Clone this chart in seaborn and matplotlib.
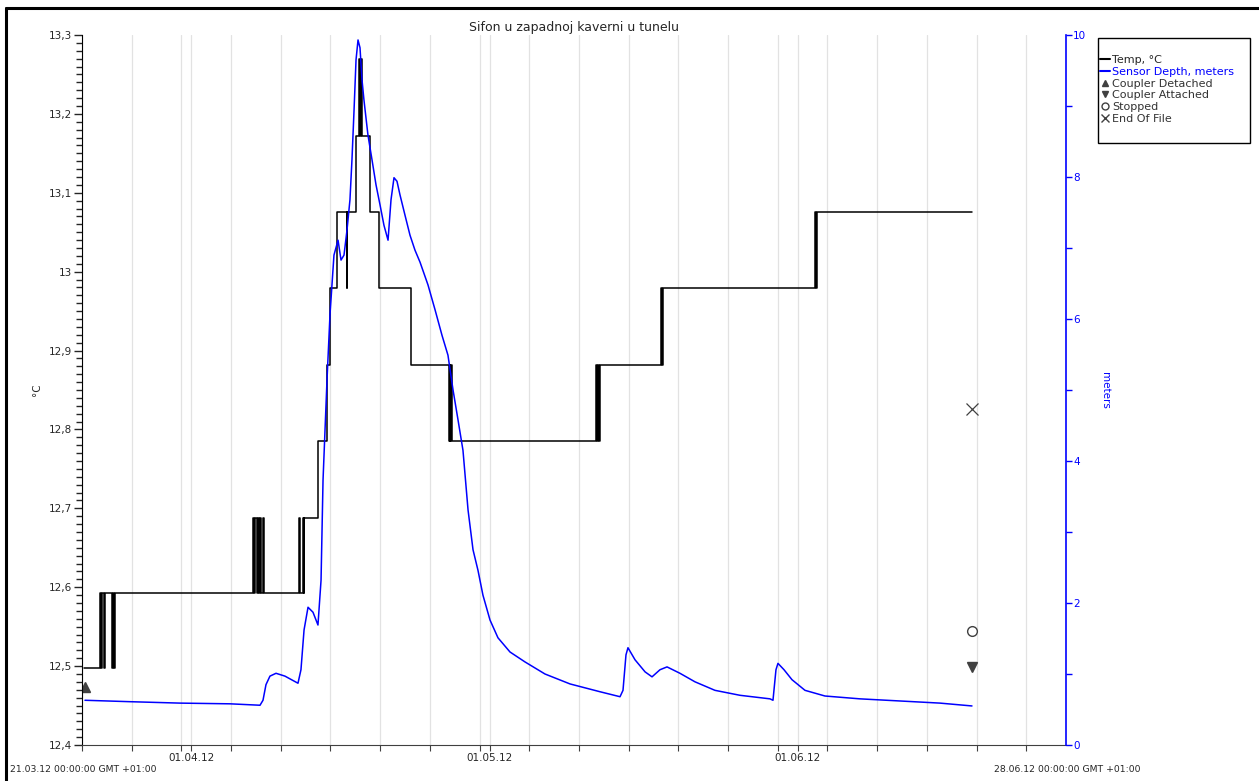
import matplotlib
matplotlib.use('Agg')
import matplotlib.pyplot as plt
from matplotlib.lines import Line2D
from matplotlib.patches import Rectangle
from matplotlib.ticker import FuncFormatter, MultipleLocator, FixedLocator
import matplotlib.dates as mdates
import seaborn as sns
import pandas as pd

# --- data (days since 21.03.12 00:00) ---
start = pd.Timestamp('2012-03-21')
end = pd.Timestamp('2012-06-28')

temp_days = [0.2, 1.8, 1.9, 2.0, 2.2, 2.3, 3.0, 3.15, 3.25, 3.35,
             17.2, 17.35, 17.45, 17.6, 17.7, 17.85, 17.95, 18.05, 18.2, 18.35,
             21.83, 21.95, 22.2, 22.3, 22.35,
             23.74, 24.65, 24.95, 25.66, 26.62, 26.7, 27.54, 27.9, 28.0, 28.1, 28.2,
             28.98, 29.88, 33.1,
             36.9, 36.98, 37.05, 37.12, 37.2,
             51.7, 51.8, 51.9, 52.0, 52.1,
             58.3, 58.35, 58.45,
             73.75, 73.85, 73.95, 89.54]
temp_vals = [12.497, 12.593, 12.497, 12.593, 12.497, 12.593, 12.497, 12.593, 12.497, 12.593,
             12.688, 12.593, 12.688, 12.593, 12.688, 12.593, 12.688, 12.593, 12.688, 12.593,
             12.688, 12.593, 12.688, 12.593, 12.688,
             12.785, 12.882, 12.979, 13.076, 12.979, 13.076, 13.172, 13.269, 13.172, 13.269, 13.172,
             13.076, 12.979, 12.882,
             12.785, 12.882, 12.785, 12.882, 12.785,
             12.882, 12.785, 12.882, 12.785, 12.882,
             12.979, 12.882, 12.979,
             13.076, 12.979, 13.076, 13.076]

depth_days = [0.30, 4.83, 9.86, 14.89, 17.91, 18.21, 18.51, 18.91, 19.52, 20.42,
              21.73, 22.03, 22.34, 22.74, 23.24, 23.74, 24.05, 24.25, 24.65, 24.95,
              25.35, 25.76, 26.06, 26.36, 26.66, 26.96, 27.16, 27.37, 27.57, 27.77,
              27.97, 28.17, 28.37, 28.77, 29.18, 29.58, 29.98, 30.38, 30.79, 31.09,
              31.39, 31.69, 31.99, 32.50, 33.00, 33.50, 34.01, 34.81, 35.52, 36.22,
              36.82, 37.33, 37.83, 38.33, 38.84, 39.34, 39.84, 40.34, 41.05, 41.85,
              43.06, 44.57, 46.58, 49.10, 52.12, 54.13, 54.43, 54.73, 54.93, 55.64,
              56.65, 57.35, 58.15, 58.86, 60.16, 61.67, 63.68, 66.20, 69.22, 69.52,
              69.82, 70.02, 70.63, 71.43, 72.74, 74.75, 78.27, 82.30, 86.32, 89.54]
depth_vals = [0.63, 0.61, 0.59, 0.58, 0.56, 0.63, 0.85, 0.97, 1.01, 0.97,
              0.87, 1.06, 1.62, 1.94, 1.87, 1.69, 2.32, 3.73, 5.14, 6.06,
              6.90, 7.11, 6.83, 6.90, 7.25, 7.68, 8.24, 8.94, 9.65, 9.93,
              9.82, 9.37, 9.08, 8.59, 8.24, 7.89, 7.61, 7.32, 7.11, 7.68,
              7.99, 7.94, 7.75, 7.46, 7.18, 6.97, 6.80, 6.48, 6.13, 5.77,
              5.49, 5.00, 4.58, 4.15, 3.31, 2.75, 2.46, 2.11, 1.76, 1.51,
              1.31, 1.17, 1.00, 0.86, 0.75, 0.68, 0.77, 1.27, 1.37, 1.20,
              1.03, 0.96, 1.06, 1.10, 1.01, 0.89, 0.77, 0.70, 0.65, 0.63,
              1.06, 1.15, 1.06, 0.92, 0.77, 0.69, 0.65, 0.62, 0.59, 0.55]

# event markers (left axis values)
detached_day, detached_val = 0.3, 12.473
attached_day, attached_val = 89.54, 12.499
stopped_day, stopped_val = 89.54, 12.545
eof_day, eof_val = 89.54, 12.826

month_ticks = ['2012-04-01', '2012-05-01', '2012-06-01']


def to_time(days):
    return start + pd.to_timedelta(pd.Series(days, dtype=float), unit='D')


temp_df = pd.DataFrame({'time': to_time(temp_days), 'temp': temp_vals})
depth_df = pd.DataFrame({'time': to_time(depth_days), 'depth': depth_vals})

sns.set_style('ticks')
plt.rcParams['font.family'] = ['DejaVu Sans']

fig = plt.figure(figsize=(12.59, 7.81), dpi=100)
ax = fig.add_axes([82 / 1259, 36 / 781, 984 / 1259, 710 / 781])
ax2 = ax.twinx()

sns.lineplot(data=temp_df, x='time', y='temp', ax=ax, color='black', lw=1.1,
             drawstyle='steps-post', estimator=None, sort=False, zorder=3)
sns.lineplot(data=depth_df, x='time', y='depth', ax=ax2, color='#0000ff', lw=1.1,
             estimator=None, sort=False)

mk = '#404040'
ax.plot(to_time([detached_day]), [detached_val], marker='^', ls='', color=mk, ms=7)
ax.plot(to_time([attached_day]), [attached_val], marker='v', ls='', color=mk, ms=7)
ax.plot(to_time([stopped_day]), [stopped_val], marker='o', ls='', mfc='white', mec=mk, ms=7, mew=1)
ax.plot(to_time([eof_day]), [eof_val], marker='x', ls='', color=mk, ms=9, mew=0.9)

# axes limits and ticks
ax.set_xlim(start, end)
ax.set_ylim(12.4, 13.3)
ax2.set_ylim(0, 10)

grid_dates = list(pd.date_range(start, end, freq='5D')) + [pd.Timestamp(d) for d in month_ticks]
ax.xaxis.set_major_locator(FixedLocator(mdates.date2num(grid_dates)))
ax.xaxis.set_major_formatter(FuncFormatter(
    lambda v, p: mdates.num2date(v).strftime('%d.%m.%y') if mdates.num2date(v).day == 1 else ''))
ax.grid(axis='x', color='#e2e2e2', lw=0.9)
ax.tick_params(axis='x', length=4, color='#404040', labelsize=7.5, pad=2)

ax.yaxis.set_major_locator(MultipleLocator(0.1))
ax.yaxis.set_minor_locator(MultipleLocator(0.01))
ax.yaxis.set_major_formatter(FuncFormatter(lambda v, p: f'{round(v, 2):g}'.replace('.', ',')))
ax.tick_params(axis='y', which='major', length=6, width=1, labelsize=7.5, pad=1)
ax.tick_params(axis='y', which='minor', length=4, width=1)

ax2.yaxis.set_major_locator(MultipleLocator(2))
ax2.yaxis.set_minor_locator(MultipleLocator(1))
ax2.tick_params(axis='y', which='both', colors='#0000ff', length=4, width=1, labelsize=7.5, pad=1)

for a in (ax, ax2):
    a.set_xlabel('')
    a.spines['top'].set_visible(False)
ax.spines['right'].set_visible(False)
ax.spines['left'].set_color('black')
ax.spines['bottom'].set_color('#404040')
ax2.spines['left'].set_visible(False)
ax2.spines['bottom'].set_visible(False)
ax2.spines['right'].set_color('#0000ff')
ax2.spines['right'].set_linewidth(1.2)

ax.set_ylabel('°C', fontsize=7.5, labelpad=5)
ax2.set_ylabel('meters', fontsize=7.5, color='#0000ff', rotation=270, labelpad=17)
ax.set_title('Sifon u zapadnoj kaverni u tunelu', fontsize=9, pad=3)

# legend box
handles = [
    Line2D([], [], color='black', lw=1.5, label='Temp, °C'),
    Line2D([], [], color='#0000ff', lw=1.5, label='Sensor Depth, meters'),
    Line2D([], [], marker='^', ls='', color=mk, ms=5, label='Coupler Detached'),
    Line2D([], [], marker='v', ls='', color=mk, ms=5, label='Coupler Attached'),
    Line2D([], [], marker='o', ls='', mfc='white', mec=mk, ms=5, label='Stopped'),
    Line2D([], [], marker='x', ls='', color=mk, ms=6, label='End Of File'),
]
fig.add_artist(Rectangle((1098 / 1259, 1 - 143 / 781), 152 / 1259, 105 / 781,
                         transform=fig.transFigure, fill=False, edgecolor='black', lw=1))
leg = fig.legend(handles=handles, loc='upper left', bbox_to_anchor=(1100 / 1259, 1 - 55 / 781),
                 fontsize=8, frameon=False, handlelength=0.9, handletextpad=0.2,
                 labelspacing=0.16, borderpad=0, borderaxespad=0)
leg.get_texts()[1].set_color('#0000ff')
for t in leg.get_texts()[2:]:
    t.set_color('#333333')

# date range captions
fig.text(10 / 1259, 1 - 769 / 781, '21.03.12 00:00:00 GMT +01:00', fontsize=6.7, va='center', ha='left')
fig.text(994 / 1259, 1 - 769 / 781, '28.06.12 00:00:00 GMT +01:00', fontsize=6.7, va='center', ha='left')

# outer border (left and top)
fig.add_artist(Line2D([6 / 1259, 6 / 1259], [0, 1 - 8 / 781], color='black', lw=2.2, transform=fig.transFigure))
fig.add_artist(Line2D([6 / 1259, 1], [1 - 8 / 781, 1 - 8 / 781], color='black', lw=2.2, transform=fig.transFigure))

fig.savefig('out.png', dpi=100, facecolor='white')
